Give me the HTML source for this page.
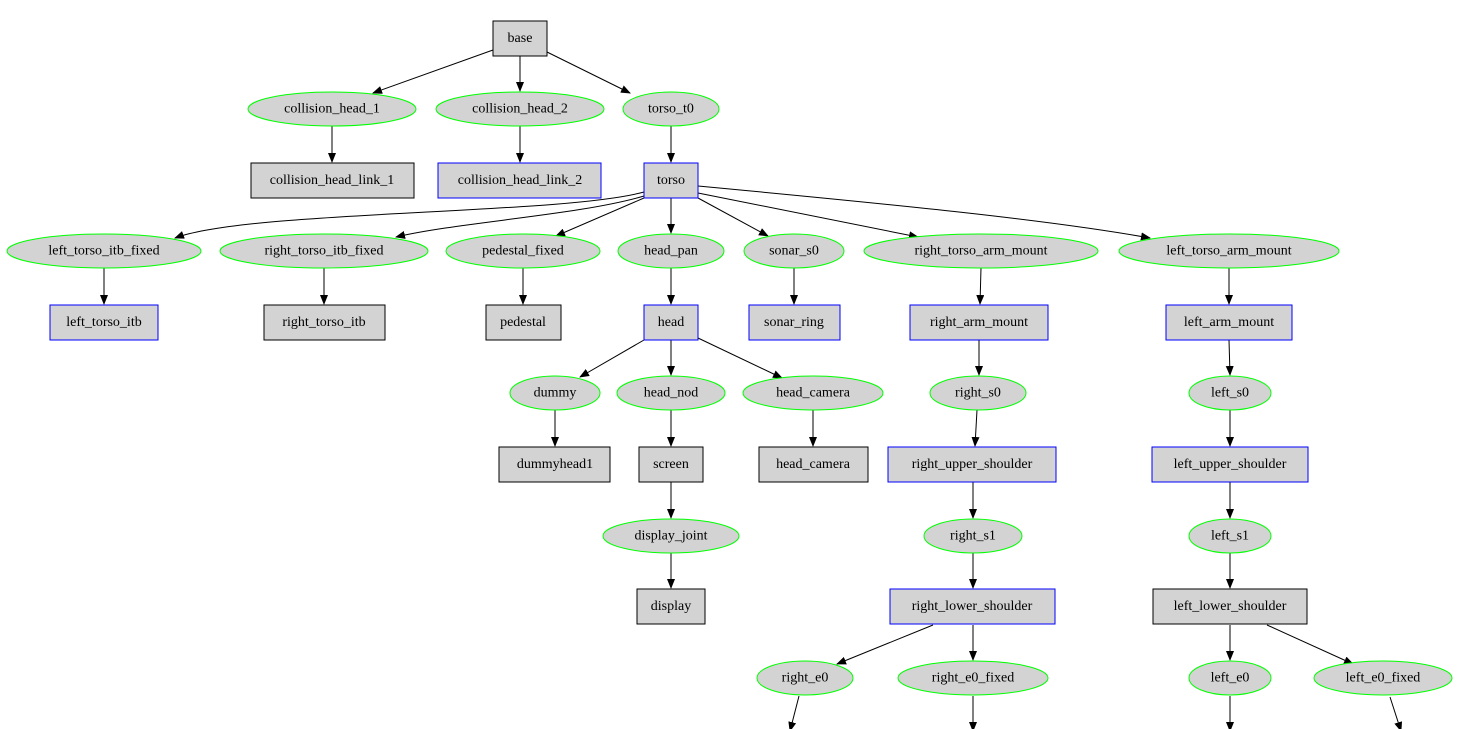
<!DOCTYPE html>
<html><head><meta charset="utf-8"><style>
html,body{margin:0;padding:0;background:#fff;}
svg{display:block}
text{font-family:"Liberation Serif",serif;font-size:14px;text-anchor:middle;dominant-baseline:central;fill:#000}
.r{fill:#d3d3d3;stroke:#000;stroke-width:1}
.rb{fill:#d3d3d3;stroke:#0000ff;stroke-width:1}
.e{fill:#d3d3d3;stroke:#00ff00;stroke-width:1}
.l{fill:none;stroke:#000;stroke-width:1}
</style></head><body>
<svg width="1458" height="729" viewBox="0 0 1458 729" xmlns="http://www.w3.org/2000/svg">
<defs><marker id="a" markerWidth="10" markerHeight="8" refX="9" refY="4" orient="auto" markerUnits="userSpaceOnUse"><path d="M0,0 L10,4 L0,8 z" fill="#000"/></marker></defs>
<g class="l" marker-end="url(#a)">
<path d="M493,50 L373,93" marker-end="url(#a)"/>
<path d="M520,56 L520,91" marker-end="url(#a)"/>
<path d="M547,52 L630,93" marker-end="url(#a)"/>
<path d="M332,126 L332,162" marker-end="url(#a)"/>
<path d="M520,126 L520,162" marker-end="url(#a)"/>
<path d="M671,126 L671,162" marker-end="url(#a)"/>
<path d="M644,192 C560,215 250,210 175,238" marker-end="url(#a)"/>
<path d="M644,196 C580,215 460,222 396,237" marker-end="url(#a)"/>
<path d="M644,198 L556,236" marker-end="url(#a)"/>
<path d="M671,198 L671,233" marker-end="url(#a)"/>
<path d="M698,198 L768,236" marker-end="url(#a)"/>
<path d="M698,193 L918,237" marker-end="url(#a)"/>
<path d="M698,186 C900,205 1050,220 1150,238" marker-end="url(#a)"/>
<path d="M104,268 L104,304" marker-end="url(#a)"/>
<path d="M324,268 L324,304" marker-end="url(#a)"/>
<path d="M523,268 L523,304" marker-end="url(#a)"/>
<path d="M671,268 L671,304" marker-end="url(#a)"/>
<path d="M794,268 L794,304" marker-end="url(#a)"/>
<path d="M981,268 L980,304" marker-end="url(#a)"/>
<path d="M1229,268 L1229,304" marker-end="url(#a)"/>
<path d="M644,340 L580,377" marker-end="url(#a)"/>
<path d="M671,340 L671,375" marker-end="url(#a)"/>
<path d="M698,338 L782,378" marker-end="url(#a)"/>
<path d="M979,340 L979,375" marker-end="url(#a)"/>
<path d="M1229,340 L1230,375" marker-end="url(#a)"/>
<path d="M555,410 L555,446" marker-end="url(#a)"/>
<path d="M671,410 L671,446" marker-end="url(#a)"/>
<path d="M813,410 L813,446" marker-end="url(#a)"/>
<path d="M977,410 L975,446" marker-end="url(#a)"/>
<path d="M1230,410 L1230,446" marker-end="url(#a)"/>
<path d="M671,482 L671,518" marker-end="url(#a)"/>
<path d="M973,482 L973,518" marker-end="url(#a)"/>
<path d="M1230,482 L1230,518" marker-end="url(#a)"/>
<path d="M671,553 L671,588" marker-end="url(#a)"/>
<path d="M973,553 L973,588" marker-end="url(#a)"/>
<path d="M1230,553 L1230,588" marker-end="url(#a)"/>
<path d="M933,625 L837,664" marker-end="url(#a)"/>
<path d="M973,625 L973,660" marker-end="url(#a)"/>
<path d="M1230,625 L1230,660" marker-end="url(#a)"/>
<path d="M1267,625 L1353,664" marker-end="url(#a)"/>
<path d="M799,696 L790,731" marker-end="url(#a)"/>
<path d="M973,696 L973,731" marker-end="url(#a)"/>
<path d="M1230,696 L1230,731" marker-end="url(#a)"/>
<path d="M1390,697 L1401,731" marker-end="url(#a)"/>
</g>
<rect class="r" x="493" y="21" width="54" height="35"/><text x="520" y="38.5">base</text>
<ellipse class="e" cx="332" cy="109" rx="84" ry="17"/><text x="332" y="109">collision_head_1</text>
<ellipse class="e" cx="520" cy="109" rx="84" ry="17"/><text x="520" y="109">collision_head_2</text>
<ellipse class="e" cx="671" cy="109" rx="48" ry="17"/><text x="671" y="109">torso_t0</text>
<rect class="r" x="251" y="163" width="163" height="35"/><text x="332" y="180.5">collision_head_link_1</text>
<rect class="rb" x="438" y="163" width="163" height="35"/><text x="520" y="180.5">collision_head_link_2</text>
<rect class="rb" x="644" y="163" width="54" height="35"/><text x="671" y="180.5">torso</text>
<ellipse class="e" cx="104" cy="251" rx="97" ry="17"/><text x="104" y="251">left_torso_itb_fixed</text>
<ellipse class="e" cx="324" cy="251" rx="104" ry="17"/><text x="324" y="251">right_torso_itb_fixed</text>
<ellipse class="e" cx="523" cy="251" rx="77" ry="17"/><text x="523" y="251">pedestal_fixed</text>
<ellipse class="e" cx="671" cy="251" rx="53" ry="17"/><text x="671" y="251">head_pan</text>
<ellipse class="e" cx="794" cy="251" rx="50" ry="17"/><text x="794" y="251">sonar_s0</text>
<ellipse class="e" cx="981" cy="251" rx="117" ry="17"/><text x="981" y="251">right_torso_arm_mount</text>
<ellipse class="e" cx="1229" cy="251" rx="110" ry="17"/><text x="1229" y="251">left_torso_arm_mount</text>
<rect class="rb" x="50" y="305" width="108" height="35"/><text x="104" y="322.5">left_torso_itb</text>
<rect class="r" x="264" y="305" width="121" height="35"/><text x="324" y="322.5">right_torso_itb</text>
<rect class="r" x="486" y="305" width="75" height="35"/><text x="523" y="322.5">pedestal</text>
<rect class="rb" x="644" y="305" width="54" height="35"/><text x="671" y="322.5">head</text>
<rect class="rb" x="749" y="305" width="91" height="35"/><text x="794" y="322.5">sonar_ring</text>
<rect class="rb" x="910" y="305" width="138" height="35"/><text x="979" y="322.5">right_arm_mount</text>
<rect class="rb" x="1166" y="305" width="126" height="35"/><text x="1229" y="322.5">left_arm_mount</text>
<ellipse class="e" cx="555" cy="393" rx="45" ry="17"/><text x="555" y="393">dummy</text>
<ellipse class="e" cx="671" cy="393" rx="54" ry="17"/><text x="671" y="393">head_nod</text>
<ellipse class="e" cx="813" cy="393" rx="70" ry="17"/><text x="813" y="393">head_camera</text>
<ellipse class="e" cx="978" cy="393" rx="48" ry="17"/><text x="978" y="393">right_s0</text>
<ellipse class="e" cx="1230" cy="393" rx="41" ry="17"/><text x="1230" y="393">left_s0</text>
<rect class="r" x="499" y="447" width="111" height="35"/><text x="555" y="464.5">dummyhead1</text>
<rect class="r" x="639" y="447" width="64" height="35"/><text x="671" y="464.5">screen</text>
<rect class="r" x="759" y="447" width="109" height="35"/><text x="813" y="464.5">head_camera</text>
<rect class="rb" x="888" y="447" width="168" height="35"/><text x="972" y="464.5">right_upper_shoulder</text>
<rect class="rb" x="1152" y="447" width="156" height="35"/><text x="1230" y="464.5">left_upper_shoulder</text>
<ellipse class="e" cx="671" cy="536" rx="68" ry="17"/><text x="671" y="536">display_joint</text>
<ellipse class="e" cx="973" cy="536" rx="49" ry="17"/><text x="973" y="536">right_s1</text>
<ellipse class="e" cx="1230" cy="536" rx="41" ry="17"/><text x="1230" y="536">left_s1</text>
<rect class="r" x="637" y="589" width="68" height="35"/><text x="671" y="606.5">display</text>
<rect class="rb" x="890" y="589" width="165" height="35"/><text x="972" y="606.5">right_lower_shoulder</text>
<rect class="r" x="1153" y="589" width="154" height="35"/><text x="1230" y="606.5">left_lower_shoulder</text>
<ellipse class="e" cx="805" cy="678" rx="48" ry="17"/><text x="805" y="678">right_e0</text>
<ellipse class="e" cx="973" cy="678" rx="75" ry="17"/><text x="973" y="678">right_e0_fixed</text>
<ellipse class="e" cx="1230" cy="678" rx="41" ry="17"/><text x="1230" y="678">left_e0</text>
<ellipse class="e" cx="1383" cy="678" rx="69" ry="17"/><text x="1383" y="678">left_e0_fixed</text>
</svg>
</body></html>
